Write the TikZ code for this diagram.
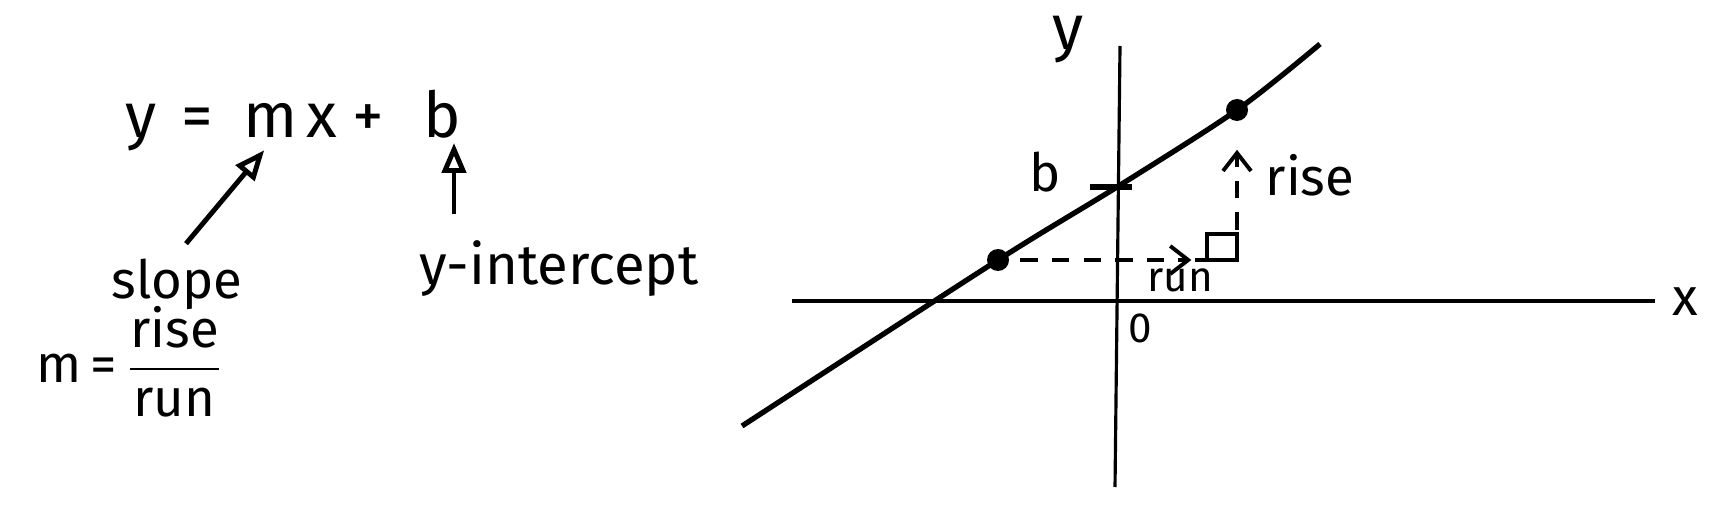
\documentclass[tikz,border=0pt]{standalone}
\usepackage{amsmath}
\usepackage{fontspec}
\setmainfont{Fira Sans}
\usetikzlibrary{arrows.meta,positioning}

\begin{document}
\begin{tikzpicture}[
  big/.style={font=\fontsize{18}{22}\selectfont, inner sep=1pt},
  hand/.style={font=\fontsize{15}{18}\selectfont, inner sep=1pt},
  small/.style={font=\fontsize{12}{14}\selectfont, inner sep=1pt},
  pointer/.style={-{Triangle[open,length=3mm,width=2.4mm]}, line width=1.4pt},
  axis/.style={line width=1.1pt},
  graph/.style={line width=1.5pt},
  guide/.style={-{Straight Barb[length=1.8mm,width=2.8mm]}, line width=1.1pt, dash pattern=on 5pt off 4pt},
  dot/.style={circle, fill, inner sep=0pt, minimum size=2.2mm}
]
\useasboundingbox (0,0) rectangle (17.36,5.14);

% equation
\node[big, anchor=base] (eqy) at (1.41,3.76) {y};
\node[big, anchor=base] (eqeq) at (1.97,3.76) {=};
\node[big, anchor=base] (slopem) at (2.71,3.76) {m};
\node[big, anchor=base] (eqx) at (3.22,3.76) {x};
\node[big, anchor=base] (eqplus) at (3.68,3.76) {+};
\node[big, anchor=base] (intb) at (4.42,3.76) {b};
\node[hand] (slope) at (1.77,2.30) {slope};
\node[hand, font=\fontsize{16}{19}\selectfont] (yint) at (5.59,2.45) {y-intercept};
\node[hand] (slopeformula) at (1.30,1.52) {m\,=\,$\dfrac{\text{rise}}{\text{run}}$};
\coordinate (inttail) at (4.54,3.00);

\draw[pointer, shorten <=4pt, shorten >=3pt] (slope.north) -- (slopem.south);
\draw[pointer] (inttail) -- (inttail |- intb.south);

% graph
\coordinate (ybot) at (11.15,0.27);
\coordinate (ytop) at (11.20,4.68);
\coordinate (xleft) at (7.92,2.13);
\coordinate (xright) at (16.55,2.13);
\coordinate (lstart) at (7.42,0.88);
\coordinate (lend) at (13.20,4.70);
\coordinate (bpt) at (11.17,3.27);
\node[dot] (lowdot) at (9.98,2.54) {};
\node[dot] (highdot) at (12.37,4.04) {};
\coordinate (corner) at (highdot |- lowdot);
\node[big] (ylab) at (10.68,4.74) {y};
\node[hand] (xlab) at (16.85,2.12) {x};
\node[small] (origin) at (11.40,1.86) {0};
\node[hand] (blab) at (10.45,3.42) {b};
\node[small] (runlab) at (11.80,2.34) {run};
\node[hand] (riselab) at (13.10,3.39) {rise};

\draw[axis] (xleft) -- (xright);
\draw[axis, line width=0.9pt] (ybot) -- (ytop);
\draw[graph] plot[smooth, tension=0.5] coordinates {(lstart) (lowdot.center) (bpt) (highdot.center) (lend)};
\draw[graph] ([xshift=-0.27cm]bpt) -- ([xshift=0.15cm]bpt);
\draw[guide, shorten <=3pt, shorten >=13pt] (lowdot) -- (corner);
\draw[line width=1pt] ([xshift=-0.42cm]corner) -- (corner) rectangle ++(-0.3,0.26);
\draw[guide, shorten >=8pt] ([yshift=0.3cm]corner) -- (highdot);
\end{tikzpicture}
\end{document}
